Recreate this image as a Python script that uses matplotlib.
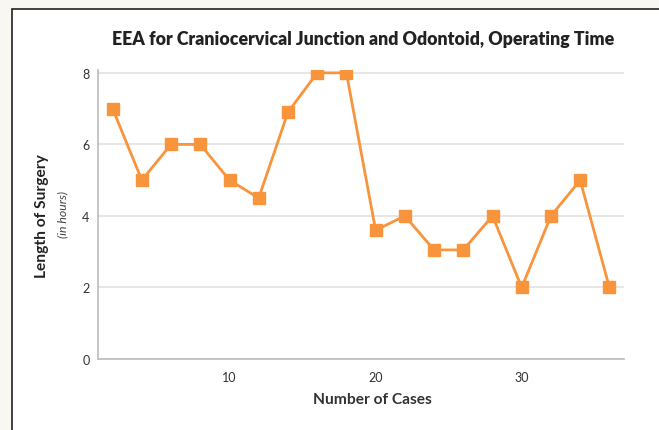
import matplotlib
matplotlib.use("Agg")
import matplotlib.pyplot as plt
from matplotlib.patches import Rectangle

plt.rcParams["font.family"] = ["Lato", "DejaVu Sans"]

# Данные
cases = [2, 4, 6, 8, 10, 12, 14, 16, 18, 20, 22, 24, 26, 28, 30, 32, 34, 36]
hours = [7, 5, 6, 6, 5, 4.5, 6.9, 8, 8, 3.6, 4, 3.05, 3.05, 4, 2, 4, 5, 2]
y_ticks = [0, 2, 4, 6, 8]
x_ticks = [10, 20, 30]

orange = "#f7943c"


def main():
    fig = plt.figure(figsize=(6.59, 4.31), dpi=100)
    fig.patch.set_facecolor("#f9f7f1")

    # белая рамка
    frame = Rectangle((11.5 / 659, -0.1), 1.2, 1 - 9.5 / 431 + 0.1,
                      transform=fig.transFigure, facecolor="white",
                      edgecolor="#222222", linewidth=1.2, zorder=-5)
    fig.patches.append(frame)

    ax = fig.add_axes([98 / 659, (431 - 360) / 431, 526 / 659, 289 / 431])
    ax.set_facecolor("white")
    ax.plot(cases, hours, color=orange, linewidth=2, marker="s",
            markersize=8.5, markeredgecolor=orange, zorder=3)

    ax.set_xlim(1.0, 37.0)
    ax.set_ylim(0, 8.08)
    ax.set_yticks(y_ticks)
    ax.set_xticks(x_ticks)
    ax.grid(axis="y", color="#e2e2e2", linewidth=1.2)
    ax.tick_params(length=0, labelsize=9, labelcolor="#333333")
    ax.tick_params(axis="y", pad=6)
    ax.tick_params(axis="x", pad=8.5)
    for s in ["top", "right"]:
        ax.spines[s].set_visible(False)
    for s in ["left", "bottom"]:
        ax.spines[s].set_color("#bbbbbb")
        ax.spines[s].set_linewidth(1.2)

    fig.text(363 / 659, 1 - 40 / 431,
             "EEA for Craniocervical Junction and Odontoid, Operating Time",
             ha="center", va="center", fontsize=12.8, fontweight="heavy",
             color="#222222")
    fig.text(372 / 659, 1 - 400 / 431, "Number of Cases", ha="center",
             va="center", fontsize=11.2, fontweight="bold", color="#333333")
    fig.text(42 / 659, 1 - 216 / 431, "Length of Surgery", ha="center",
             va="center", rotation=90, fontsize=11.2, fontweight="bold",
             color="#222222")
    fig.text(63 / 659, 1 - 215 / 431, "(in hours)", ha="center",
             va="center", rotation=90, fontsize=8.8, style="italic",
             color="#444444")

    fig.savefig("out.png", dpi=100, facecolor=fig.get_facecolor())


main()
